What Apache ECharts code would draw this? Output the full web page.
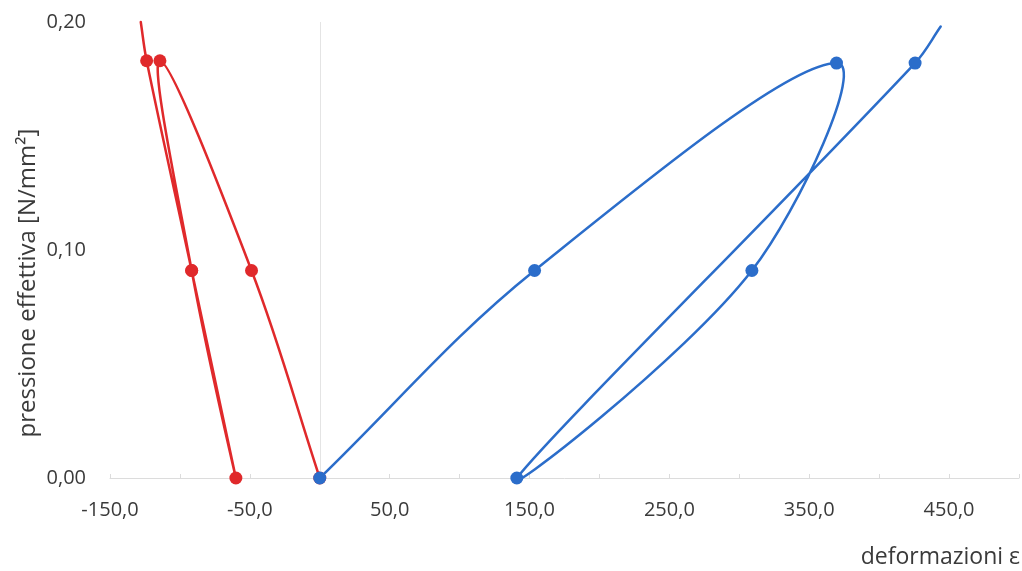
<!DOCTYPE html>
<html>
<head>
<meta charset="utf-8">
<script src="https://cdn.jsdelivr.net/npm/echarts@6/dist/echarts.min.js"></script>
<style>
  html, body { margin: 0; padding: 0; background: #fff; }
  #chart { width: 1022px; height: 571px; }
</style>
</head>
<body>
<div id="chart"></div>
<script>
// Deformation (x) vs effective pressure (y): load, unload, reload cycles
const redStrain     = [0, -48.8, -114.3, -91.6, -60.0, -91.6, -123.8, -128.0];
const redPressure   = [0, 0.091, 0.183, 0.091, 0, 0.091, 0.183, 0.200];
const blueStrain    = [0, 153.6, 369.5, 309.0, 140.9, 425.7, 444.0];
const bluePressure  = [0, 0.091, 0.182, 0.091, 0, 0.182, 0.198];

const xTicks = { min: -150, max: 500, step: 50 };
const yTicks = { min: 0, max: 0.2, step: 0.1 };

const xTitle = 'deformazioni ε';
const yTitle = 'pressione effettiva [N/mm²]';

const RED = '#e0292b';
const BLUE = '#2b6dca';
const TEXT = '#3a3a3a';
const FONT = 'Open Sans';

// Smooth curve through the points: cubic Bezier segments whose tangents follow
// the neighbouring points, scaled by segment length so short end pieces stay tight.
// Pixel positions come from the axis scales via api.coord.
const TENSION = 0.36;
function curveSeries(name, xs, ys, color, z) {
  return {
    name: name,
    type: 'custom',
    coordinateSystem: 'cartesian2d',
    silent: true,
    clip: false,
    z: z,
    data: [[xs[0], ys[0]]],
    renderItem: function (params, api) {
      const p = xs.map((x, i) => api.coord([x, ys[i]]));
      const n = p.length;
      const at = i => p[Math.max(0, Math.min(n - 1, i))];
      const len = (u, v) => Math.hypot(v[0] - u[0], v[1] - u[1]);
      let d = 'M' + p[0][0] + ' ' + p[0][1];
      for (let i = 0; i < n - 1; i++) {
        const a = at(i - 1), b = at(i), c = at(i + 1), e = at(i + 2);
        const lab = len(a, b), lbc = len(b, c), lce = len(c, e);
        const f1 = (lab + lbc) > 0 ? TENSION * lbc / (lab + lbc) : 0;
        const f2 = (lbc + lce) > 0 ? TENSION * lbc / (lbc + lce) : 0;
        const c1x = b[0] + (c[0] - a[0]) * f1, c1y = b[1] + (c[1] - a[1]) * f1;
        const c2x = c[0] - (e[0] - b[0]) * f2, c2y = c[1] - (e[1] - b[1]) * f2;
        d += ' C' + c1x + ' ' + c1y + ' ' + c2x + ' ' + c2y + ' ' + c[0] + ' ' + c[1];
      }
      return {
        type: 'path',
        shape: { pathData: d },
        style: { stroke: color, fill: null, lineWidth: 2.5, lineJoin: 'round', lineCap: 'round' }
      };
    }
  };
}

// Markers on every measured point except the open end of each curve
function markerSeries(name, xs, ys, color, z, extra) {
  return Object.assign({
    name: name,
    type: 'scatter',
    symbol: 'circle',
    symbolSize: 13,
    z: z,
    itemStyle: { color: color, opacity: 1 },
    data: xs.slice(0, -1).map((x, i) => [x, ys[i]])
  }, extra || {});
}

const chart = echarts.init(document.getElementById('chart'));
chart.setOption({
  animation: false,
  backgroundColor: '#ffffff',
  grid: { left: 110, right: 2, top: 22, bottom: 93 },
  xAxis: {
    type: 'value',
    min: xTicks.min, max: xTicks.max, interval: xTicks.step,
    axisLine: { show: true, onZero: false, lineStyle: { color: '#dcdcdc', width: 1 } },
    axisTick: { show: true, length: 4, inside: true, lineStyle: { color: '#dcdcdc' } },
    splitLine: { show: false },
    axisLabel: {
      margin: 22,
      color: TEXT, fontFamily: FONT, fontSize: 20,
      formatter: v => ((v - xTicks.min) % 100 === 0 && v < xTicks.max) ? v.toFixed(1).replace('.', ',') : ''
    }
  },
  yAxis: {
    type: 'value',
    min: yTicks.min, max: yTicks.max, interval: yTicks.step,
    axisLine: { show: false },
    axisTick: { show: false },
    splitLine: { show: false },
    axisLabel: {
      margin: 24,
      color: TEXT, fontFamily: FONT, fontSize: 20,
      formatter: v => v.toFixed(2).replace('.', ',')
    }
  },
  graphic: [
    {
      type: 'text',
      x: 28, y: 283, rotation: Math.PI / 2,
      style: {
        text: yTitle, fill: TEXT, font: '24px "' + FONT + '"',
        align: 'center', verticalAlign: 'middle'
      }
    },
    {
      type: 'text',
      x: 1020, y: 557,
      style: {
        text: xTitle, fill: TEXT, font: '23px "' + FONT + '"',
        align: 'right', verticalAlign: 'middle'
      }
    }
  ],
  series: [
    curveSeries('rosso', redStrain, redPressure, RED, 3),
    markerSeries('rosso', redStrain, redPressure, RED, 4, {
      markLine: {
        silent: true, symbol: 'none', label: { show: false },
        lineStyle: { color: '#e4e4e4', width: 1, type: 'solid' },
        data: [{ xAxis: 0 }]
      }
    }),
    curveSeries('blu', blueStrain, bluePressure, BLUE, 5),
    markerSeries('blu', blueStrain, bluePressure, BLUE, 6)
  ]
});
</script>
</body>
</html>
